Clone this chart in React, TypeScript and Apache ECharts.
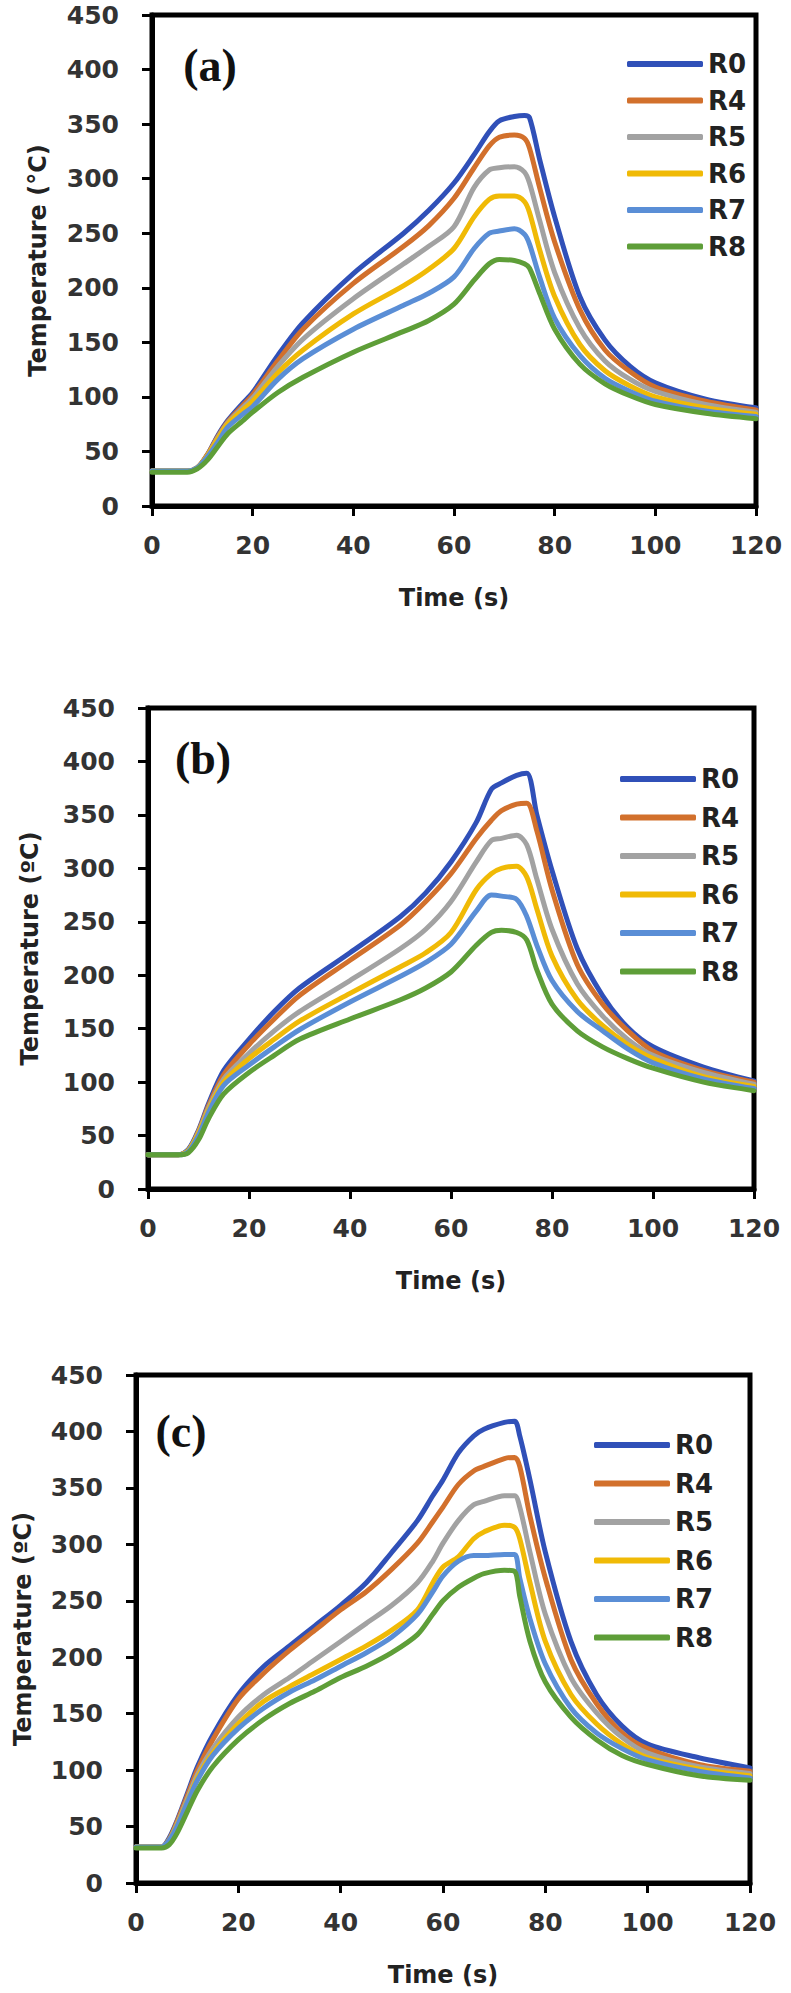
import React, { useEffect, useRef } from 'react';
import * as echarts from 'echarts';

const seriesNames = ['R0', 'R4', 'R5', 'R6', 'R7', 'R8'];
const seriesColors = ['#3050B8', '#D2702C', '#A2A2A2', '#F0BA06', '#5A8ED6', '#5E9E38'];
const xTicks = { min: 0, max: 120, interval: 20 };
const yTicks = { min: 0, max: 450, interval: 50 };

// Panel (a)
const timeA = [0, 7, 9, 11, 13, 15, 18, 20, 25, 30, 40, 50, 55, 60, 64, 67, 69, 72, 74, 75, 77, 80, 85, 90, 95, 100, 110, 120];
const a_R0 = [32, 32, 35, 47, 64, 78, 94, 104, 138, 168, 213, 250, 271, 296, 322, 343, 353, 357, 358, 356, 318, 265, 192, 152, 128, 113, 98, 90];
const a_R4 = [32, 32, 35, 47, 63, 77, 92, 102, 133, 162, 204, 238, 257, 282, 310, 330, 338, 340, 337, 328, 292, 242, 180, 143, 123, 109, 96, 88];
const a_R5 = [32, 32, 35, 46, 62, 76, 90, 99, 128, 153, 190, 222, 238, 256, 292, 308, 310, 311, 306, 296, 262, 214, 163, 133, 116, 105, 93, 86];
const a_R6 = [32, 32, 35, 46, 61, 75, 88, 96, 122, 143, 176, 202, 217, 236, 265, 281, 284, 284, 279, 269, 235, 192, 148, 124, 110, 100, 90, 84];
const a_R7 = [32, 32, 35, 45, 58, 72, 84, 91, 116, 135, 162, 184, 195, 210, 236, 250, 252, 254, 249, 240, 210, 172, 138, 117, 105, 96, 87, 82];
const a_R8 = [31, 31, 34, 42, 54, 66, 78, 86, 104, 118, 141, 160, 170, 185, 207, 222, 226, 225, 222, 218, 195, 162, 130, 112, 101, 93, 85, 80];

// Panel (b)
const timeB = [0, 6, 8, 10, 12, 15, 20, 25, 30, 40, 50, 55, 60, 65, 68, 70, 73, 75, 77, 80, 85, 90, 95, 100, 110, 120];
const b_R0 = [32, 32, 37, 55, 80, 111, 140, 166, 188, 221, 255, 277, 306, 343, 374, 380, 387, 389, 350, 298, 225, 181, 151, 133, 114, 101];
const b_R4 = [32, 32, 36, 54, 78, 107, 135, 159, 181, 214, 247, 269, 295, 328, 345, 354, 360, 361, 335, 280, 210, 173, 148, 129, 111, 100];
const b_R5 = [32, 32, 36, 53, 76, 103, 127, 148, 166, 195, 225, 243, 269, 306, 326, 328, 331, 322, 290, 243, 192, 162, 140, 125, 109, 98];
const b_R6 = [32, 32, 36, 52, 74, 100, 122, 140, 157, 183, 208, 221, 240, 280, 295, 300, 302, 292, 262, 218, 177, 153, 135, 122, 105, 96];
const b_R7 = [32, 32, 35, 50, 72, 97, 116, 133, 149, 175, 199, 212, 229, 260, 275, 274, 271, 255, 228, 195, 166, 148, 131, 118, 103, 94];
const b_R8 = [32, 32, 34, 46, 66, 89, 109, 125, 140, 159, 177, 188, 203, 228, 240, 242, 240, 233, 205, 173, 148, 133, 122, 113, 100, 92];

// Panel (c)
const timeC = [0, 5, 6.5, 8, 10, 12, 15, 20, 25, 30, 35, 40, 45, 50, 55, 58, 60, 63, 66, 68, 72, 74, 75, 77, 80, 85, 90, 95, 100, 110, 120];
const c_R0 = [32, 32, 40, 55, 79, 103, 131, 167, 192, 210, 228, 246, 266, 293, 321, 343, 357, 381, 396, 402, 408, 409, 396, 357, 293, 214, 167, 139, 123, 111, 102];
const c_R4 = [32, 32, 39, 54, 77, 100, 127, 163, 186, 206, 224, 242, 258, 278, 301, 320, 333, 353, 365, 369, 376, 377, 369, 325, 270, 198, 159, 133, 119, 105, 99];
const c_R5 = [32, 32, 38, 52, 74, 96, 119, 147, 167, 182, 198, 214, 230, 246, 266, 285, 301, 321, 335, 338, 343, 343, 333, 293, 238, 182, 151, 129, 115, 103, 97];
const c_R6 = [32, 32, 38, 51, 72, 93, 115, 141, 161, 174, 186, 198, 210, 224, 242, 266, 280, 289, 305, 311, 317, 315, 305, 266, 214, 167, 141, 123, 111, 101, 95];
const c_R7 = [32, 32, 38, 50, 71, 91, 113, 137, 155, 169, 180, 192, 204, 218, 238, 258, 272, 285, 290, 290, 291, 291, 270, 234, 194, 155, 133, 119, 109, 99, 93];
const c_R8 = [31, 31, 34, 44, 63, 82, 103, 127, 145, 159, 170, 182, 192, 204, 220, 238, 250, 262, 270, 274, 277, 276, 254, 214, 178, 147, 127, 113, 105, 95, 91];

const panelLabels = ['(a)', '(b)', '(c)'];
const xAxisTitle = 'Time (s)';
const yAxisTitles = ['Temperature (°C)', 'Temperature (ºC)', 'Temperature (ºC)'];

const panelData = [
  { time: timeA, values: [a_R0, a_R4, a_R5, a_R6, a_R7, a_R8] },
  { time: timeB, values: [b_R0, b_R4, b_R5, b_R6, b_R7, b_R8] },
  { time: timeC, values: [c_R0, c_R4, c_R5, c_R6, c_R7, c_R8] },
];

const layout = [
  { grid: { left: 152, top: 15, width: 604, height: 491 }, legend: { left: 627, top: 51, gap: 10.5 }, label: { x: 210, y: 65 }, yGap: 102 },
  { grid: { left: 148, top: 708, width: 606, height: 481 }, legend: { left: 620, top: 766, gap: 12.5 }, label: { x: 203, y: 758 }, yGap: 106 },
  { grid: { left: 136, top: 1375, width: 614, height: 508 }, legend: { left: 594, top: 1432, gap: 12.5 }, label: { x: 181, y: 1431 }, yGap: 101 },
];

const tickFont = { fontFamily: 'DejaVu Sans', fontWeight: 'bold' as const, fontSize: 25, color: '#333' };

export default function App() {
  const ref = useRef<HTMLDivElement>(null);
  useEffect(() => {
    if (!ref.current) return;
    const chart = echarts.init(ref.current, null, { renderer: 'svg' });
    const grids: any[] = [];
    const xAxes: any[] = [];
    const yAxes: any[] = [];
    const legends: any[] = [];
    const series: any[] = [];
    const graphics: any[] = [];
    layout.forEach((L, i) => {
      grids.push({ ...L.grid, show: true, borderColor: '#000', borderWidth: 5, backgroundColor: 'transparent', containLabel: false });
      xAxes.push({
        type: 'value', gridIndex: i, ...xTicks,
        name: xAxisTitle, nameLocation: 'middle', nameGap: 80,
        nameTextStyle: { fontFamily: 'DejaVu Sans', fontWeight: 'bold', fontSize: 24, color: '#222' },
        axisLine: { show: true, onZero: false, lineStyle: { color: '#000', width: 5 } },
        axisTick: { show: true, inside: false, length: 10, lineStyle: { color: '#000', width: 3 } },
        axisLabel: { ...tickFont, margin: 27 },
        splitLine: { show: false },
      });
      yAxes.push({
        type: 'value', gridIndex: i, ...yTicks,
        name: yAxisTitles[i], nameLocation: 'middle', nameGap: L.yGap,
        nameTextStyle: { fontFamily: 'DejaVu Sans', fontWeight: 'bold', fontSize: 24, color: '#222' },
        axisLine: { show: true, onZero: false, lineStyle: { color: '#000', width: 5 } },
        axisTick: { show: true, inside: false, length: 10, lineStyle: { color: '#000', width: 3 } },
        axisLabel: { ...tickFont, margin: 33 },
        splitLine: { show: false },
      });
      legends.push({
        left: L.legend.left, top: L.legend.top, orient: 'vertical', padding: 0,
        data: seriesNames, icon: 'roundRect', itemWidth: 76, itemHeight: 6, itemGap: L.legend.gap,
        selectedMode: false,
        textStyle: { fontFamily: 'DejaVu Sans', fontWeight: 'bold', fontSize: 26, color: '#222', lineHeight: 24 },
      });
      const pd = panelData[i];
      seriesNames.forEach((nm, k) => {
        series.push({
          type: 'line', name: nm, xAxisIndex: i, yAxisIndex: i,
          data: pd.time.map((t, j) => [t, pd.values[k][j]]),
          showSymbol: false, symbol: 'none', smooth: 0.3,
          lineStyle: { width: 5, color: seriesColors[k], cap: 'round', join: 'round' },
          itemStyle: { color: seriesColors[k] },
          emphasis: { disabled: true },
        });
      });
      graphics.push({
        type: 'text', x: L.label.x, y: L.label.y,
        style: {
          text: panelLabels[i], fontFamily: 'Liberation Serif', fontWeight: 'bold', fontSize: 46,
          fill: '#111', textAlign: 'center', textVerticalAlign: 'middle',
        },
      });
    });
    chart.setOption({
      animation: false,
      backgroundColor: '#fff',
      grid: grids,
      xAxis: xAxes,
      yAxis: yAxes,
      legend: legends,
      series,
      graphic: graphics,
    });
    return () => chart.dispose();
  }, []);
  return <div ref={ref} style={{ position: 'absolute', left: 0, top: 0, width: 791, height: 1993, background: '#fff' }} />;
}
